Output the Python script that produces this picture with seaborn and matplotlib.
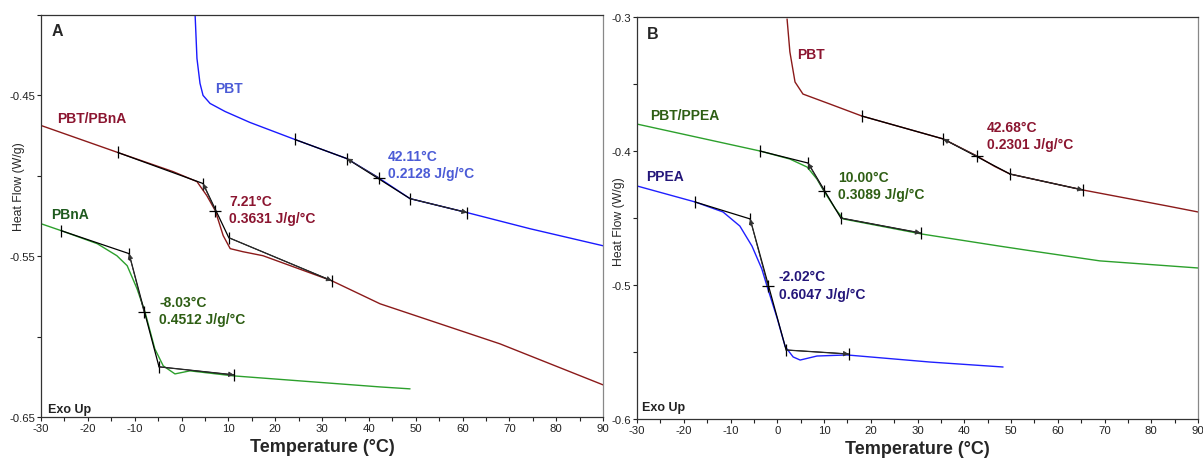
import numpy as np
import pandas as pd
import matplotlib
matplotlib.use("Agg")
import matplotlib.pyplot as plt
import seaborn as sns
from matplotlib.ticker import MultipleLocator, FixedLocator, FixedFormatter

sns.set_style("white")
plt.rcParams['font.family'] = ['Liberation Sans', 'DejaVu Sans']
plt.rcParams['axes.unicode_minus'] = False

# ---------------- Panel A data ----------------
a_pbt_T = [2.9, 3.3, 3.95, 4.6, 6.1, 9.3, 14.6, 24.2, 35.3, 42.0, 48.8, 61.0, 74.4, 90.0]
a_pbt_v = [-0.3995, -0.427, -0.4425, -0.450, -0.455, -0.460, -0.4668, -0.4774, -0.4893,
           -0.5011, -0.5142, -0.5229, -0.5329, -0.5435]

a_blend_T = [-30.0, -13.6, -1.8, 3.3, 5.4, 7.2, 8.9, 10.4, 13.1, 17.4, 32.1, 42.4, 68.0, 90.0]
a_blend_v = [-0.4687, -0.4855, -0.4974, -0.5036, -0.5123, -0.5216, -0.5372, -0.5453, -0.5472,
             -0.5497, -0.5653, -0.5796, -0.6045, -0.630]

a_pbna_T = [-30.0, -25.7, -18.0, -13.8, -11.6, -9.5, -7.8, -5.7, -3.9, -1.4, 1.8, 11.0, 42.4, 48.8]
a_pbna_v = [-0.5298, -0.5341, -0.5422, -0.5497, -0.5559, -0.5702, -0.5846, -0.6076, -0.6182,
            -0.6232, -0.6213, -0.6244, -0.6313, -0.6325]

# glass-transition analysis points: start tick, onset, inflection, end, end tick
a_pbt_tg_T = [24.2, 35.3, 42.11, 48.8, 61.0]
a_pbt_tg_v = [-0.4774, -0.4893, -0.5011, -0.5142, -0.5229]
a_blend_tg_T = [-13.6, 4.6, 7.21, 10.1, 32.1]
a_blend_tg_v = [-0.4855, -0.5048, -0.5216, -0.5385, -0.5653]
a_pbna_tg_T = [-25.7, -11.2, -8.03, -4.8, 11.2]
a_pbna_tg_v = [-0.5341, -0.5484, -0.5846, -0.6188, -0.6238]

# ---------------- Panel B data ----------------
b_pbt_T = [2.1, 2.7, 3.8, 5.5, 11.3, 18.1, 35.5, 42.7, 46.5, 49.8, 65.4, 83.4, 90.0]
b_pbt_v = [-0.3015, -0.326, -0.3485, -0.3575, -0.365, -0.3739, -0.391, -0.4037, -0.4115,
           -0.4172, -0.4291, -0.441, -0.4455]

b_blend_T = [-30.0, -3.7, 2.7, 6.4, 8.5, 10.0, 12.4, 14.1, 31.0, 47.6, 54.1, 69.0, 90.0]
b_blend_v = [-0.3799, -0.400, -0.406, -0.412, -0.421, -0.430, -0.443, -0.4507, -0.462,
             -0.471, -0.4744, -0.482, -0.4873]

b_ppea_T = [-30.0, -17.6, -11.6, -8.0, -5.4, -3.3, -2.2, 0.0, 1.7, 3.4, 4.9, 8.5, 14.9, 32.7, 48.3]
b_ppea_v = [-0.4261, -0.438, -0.4455, -0.456, -0.471, -0.488, -0.5007, -0.525, -0.546,
            -0.5537, -0.556, -0.553, -0.5522, -0.5575, -0.5612]

b_pbt_tg_T = [18.1, 35.5, 42.68, 49.8, 65.4]
b_pbt_tg_v = [-0.3739, -0.391, -0.4037, -0.4172, -0.4291]
b_blend_tg_T = [-3.7, 6.6, 10.00, 13.6, 30.7]
b_blend_tg_v = [-0.400, -0.409, -0.430, -0.450, -0.4612]
b_ppea_tg_T = [-17.6, -5.8, -2.02, 1.9, 15.3]
b_ppea_tg_v = [-0.438, -0.4507, -0.5007, -0.5485, -0.5515]

x_ticks = [-30, -20, -10, 0, 10, 20, 30, 40, 50, 60, 70, 80, 90]
a_y_ticks = [-0.65, -0.60, -0.55, -0.50, -0.45, -0.40]
a_y_labels = ["-0.65", "", "-0.55", "", "-0.45", ""]
b_y_ticks = [-0.6, -0.55, -0.5, -0.45, -0.4, -0.35, -0.3]
b_y_labels = ["-0.6", "", "-0.5", "", "-0.4", "", "-0.3"]

fig = plt.figure(figsize=(12.03, 4.6), dpi=100)
axA = fig.add_axes([41/1203, 1-418/460, (603-41)/1203, (418-16)/460])
axB = fig.add_axes([637/1203, 1-420/460, (1198-637)/1203, (420-18)/460])

FS = 10


def curve(ax, T, v, color):
    df = pd.DataFrame({"T": T, "v": v})
    sns.lineplot(data=df, x="T", y="v", ax=ax, color=color, lw=1.0,
                 sort=False, estimator=None)


def tg(ax, T, v):
    k = "k"
    ax.plot([T[0], T[1]], [v[0], v[1]], color=k, lw=0.9)
    ax.plot([T[1], T[3]], [v[1], v[3]], color=k, lw=0.9)
    ax.plot([T[3], T[4]], [v[3], v[4]], color=k, lw=0.9)
    ax.plot([T[0], T[1], T[3], T[4]], [v[0], v[1], v[3], v[4]], ls="none",
            marker="|", ms=8, mew=0.9, color=k)
    ax.plot([T[2]], [v[2]], ls="none", marker="+", ms=9, mew=0.9, color=k)
    ax.annotate("", xy=(T[1], v[1]), xytext=(T[2], v[2]),
                arrowprops=dict(arrowstyle="-|>", color="#333333", lw=0.6,
                                mutation_scale=8, shrinkA=0, shrinkB=0))
    ax.annotate("", xy=(T[4], v[4]), xytext=(T[3], v[3]),
                arrowprops=dict(arrowstyle="-|>", color="#333333", lw=0.6,
                                mutation_scale=8, shrinkA=0, shrinkB=0))


def label2(ax, x, y1, y2, l1, l2, color):
    ax.text(x, y1, l1, color=color, fontsize=FS, fontweight="bold", va="center", ha="left")
    ax.text(x, y2, l2, color=color, fontsize=FS, fontweight="bold", va="center", ha="left")


def style(ax, yt, yl, ylim, ylab_xy):
    ax.set_xlim(-30, 90)
    ax.set_ylim(*ylim)
    ax.xaxis.set_major_locator(FixedLocator(x_ticks))
    ax.xaxis.set_minor_locator(MultipleLocator(5))
    ax.yaxis.set_major_locator(FixedLocator(yt))
    ax.yaxis.set_major_formatter(FixedFormatter(yl))
    ax.tick_params(axis="both", which="both", direction="out", length=3, width=0.8,
                   labelsize=8.2, colors="#222222", pad=1)
    ax.tick_params(axis="x", which="both", bottom=True)
    ax.tick_params(axis="y", which="both", left=True)
    for s in ax.spines.values():
        s.set_color("#333333")
        s.set_linewidth(0.9)
    ax.spines["right"].set_color("#888888")
    ax.set_xlabel("Temperature (°C)", fontsize=13, fontweight="bold", labelpad=4)
    ax.set_ylabel("Heat Flow (W/g)", fontsize=8.8)
    ax.yaxis.set_label_coords(*ylab_xy)


# Panel A
curve(axA, a_pbt_T, a_pbt_v, "#1a1aff")
curve(axA, a_blend_T, a_blend_v, "#8b1a1a")
curve(axA, a_pbna_T, a_pbna_v, "#2ca02c")
tg(axA, a_pbt_tg_T, a_pbt_tg_v)
tg(axA, a_blend_tg_T, a_blend_tg_v)
tg(axA, a_pbna_tg_T, a_pbna_tg_v)
style(axA, a_y_ticks, a_y_labels, (-0.65, -0.40), (-0.0285, 0.575))
axA.text(7.16, -0.4456, "PBT", color="#4b5bd6", fontsize=FS, fontweight="bold", va="center")
axA.text(-26.6, -0.4643, "PBT/PBnA", color="#8b1530", fontsize=FS, fontweight="bold", va="center")
axA.text(-27.9, -0.5235, "PBnA", color="#1e5a1e", fontsize=FS, fontweight="bold", va="center")
label2(axA, 10.15, -0.5154, -0.526, "7.21°C", "0.3631 J/g/°C", "#8b1530")
label2(axA, -4.8, -0.5783, -0.5889, "-8.03°C", "0.4512 J/g/°C", "#2e5e14")
label2(axA, 44.1, -0.4874, -0.498, "42.11°C", "0.2128 J/g/°C", "#4b5bd6")
axA.text(-27.7, -0.4095, "A", fontsize=11.5, fontweight="bold", va="center")
axA.text(-28.6, -0.645, "Exo Up", fontsize=9, fontweight="bold", va="center", color="#222222")

# Panel B
curve(axB, b_pbt_T, b_pbt_v, "#8b1a1a")
curve(axB, b_blend_T, b_blend_v, "#2ca02c")
curve(axB, b_ppea_T, b_ppea_v, "#2020ff")
tg(axB, b_pbt_tg_T, b_pbt_tg_v)
tg(axB, b_blend_tg_T, b_blend_tg_v)
tg(axB, b_ppea_tg_T, b_ppea_tg_v)
style(axB, b_y_ticks, b_y_labels, (-0.6, -0.3), (-0.0214, 0.4925))
axB.text(4.2, -0.3276, "PBT", color="#8b1530", fontsize=FS, fontweight="bold", va="center")
axB.text(-27.2, -0.3731, "PBT/PPEA", color="#2e5e14", fontsize=FS, fontweight="bold", va="center")
axB.text(-28.1, -0.4187, "PPEA", color="#24167a", fontsize=FS, fontweight="bold", va="center")
label2(axB, 13.0, -0.4194, -0.4321, "10.00°C", "0.3089 J/g/°C", "#2e5e14")
label2(axB, 0.37, -0.4933, -0.5067, "-2.02°C", "0.6047 J/g/°C", "#24167a")
label2(axB, 44.9, -0.3821, -0.3948, "42.68°C", "0.2301 J/g/°C", "#8b1530")
axB.text(-27.9, -0.312, "B", fontsize=11.5, fontweight="bold", va="center")
axB.text(-28.9, -0.591, "Exo Up", fontsize=9, fontweight="bold", va="center", color="#222222")

fig.savefig("out.png", dpi=100)
